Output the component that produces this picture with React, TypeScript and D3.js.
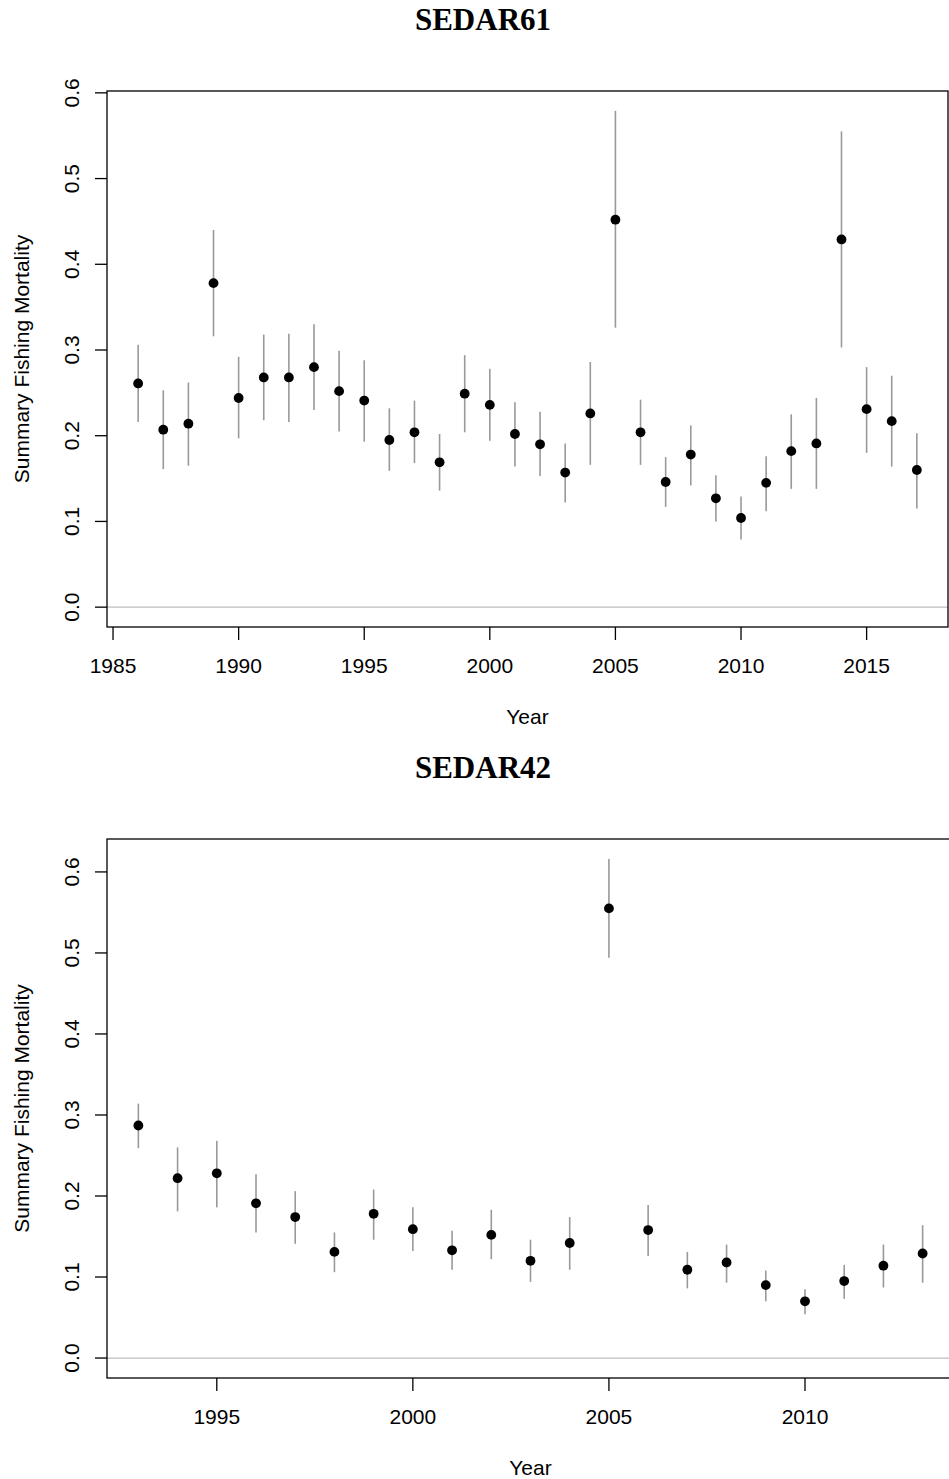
import React from "react";
import * as d3 from "d3";

// SEDAR61 estimates (year, point, lower, upper)
const years61 = [1986, 1987, 1988, 1989, 1990, 1991, 1992, 1993, 1994, 1995, 1996, 1997, 1998, 1999, 2000, 2001, 2002, 2003, 2004, 2005, 2006, 2007, 2008, 2009, 2010, 2011, 2012, 2013, 2014, 2015, 2016, 2017];
const f61 = [0.261, 0.207, 0.214, 0.378, 0.244, 0.268, 0.268, 0.280, 0.252, 0.241, 0.195, 0.204, 0.169, 0.249, 0.236, 0.202, 0.190, 0.157, 0.226, 0.452, 0.204, 0.146, 0.178, 0.127, 0.104, 0.145, 0.182, 0.191, 0.429, 0.231, 0.217, 0.160];
const lo61 = [0.216, 0.161, 0.165, 0.316, 0.197, 0.218, 0.216, 0.230, 0.205, 0.193, 0.159, 0.168, 0.136, 0.204, 0.194, 0.164, 0.153, 0.122, 0.166, 0.326, 0.166, 0.117, 0.142, 0.100, 0.079, 0.112, 0.138, 0.138, 0.303, 0.180, 0.164, 0.115];
const hi61 = [0.306, 0.253, 0.262, 0.440, 0.292, 0.318, 0.319, 0.330, 0.299, 0.288, 0.232, 0.241, 0.202, 0.294, 0.278, 0.239, 0.228, 0.191, 0.286, 0.579, 0.242, 0.175, 0.212, 0.154, 0.129, 0.176, 0.225, 0.244, 0.555, 0.280, 0.270, 0.203];

// SEDAR42 estimates
const years42 = [1993, 1994, 1995, 1996, 1997, 1998, 1999, 2000, 2001, 2002, 2003, 2004, 2005, 2006, 2007, 2008, 2009, 2010, 2011, 2012, 2013];
const f42 = [0.287, 0.222, 0.228, 0.191, 0.174, 0.131, 0.178, 0.159, 0.133, 0.152, 0.120, 0.142, 0.555, 0.158, 0.109, 0.118, 0.090, 0.070, 0.095, 0.114, 0.129];
const lo42 = [0.259, 0.181, 0.186, 0.155, 0.141, 0.106, 0.146, 0.132, 0.109, 0.122, 0.094, 0.109, 0.494, 0.126, 0.086, 0.093, 0.070, 0.054, 0.073, 0.087, 0.093];
const hi42 = [0.314, 0.260, 0.268, 0.227, 0.206, 0.155, 0.208, 0.186, 0.157, 0.183, 0.146, 0.174, 0.616, 0.189, 0.131, 0.140, 0.108, 0.085, 0.115, 0.140, 0.164];

const yTicks = [0, 0.1, 0.2, 0.3, 0.4, 0.5, 0.6];
const xTicks61 = [1985, 1990, 1995, 2000, 2005, 2010, 2015];
const xTicks42 = [1995, 2000, 2005, 2010];

const sans = "'Liberation Sans', Arial, sans-serif";
const serif = "'Liberation Serif', 'Times New Roman', serif";

// R-style 4% padded range
const pad = (lo: number, hi: number): [number, number] => {
  const e = (hi - lo) * 0.04;
  return [lo - e, hi + e];
};

interface PanelProps {
  title: string;
  years: number[];
  est: number[];
  lo: number[];
  hi: number[];
  xTicks: number[];
  top: number;
  bottom: number;
  left: number;
  right: number;
}

const Panel: React.FC<PanelProps> = ({ title, years, est, lo, hi, xTicks, top, bottom, left, right }) => {
  const x = d3
    .scaleLinear()
    .domain(pad(d3.min(years)!, d3.max(years)!))
    .range([left, right]);
  const y = d3
    .scaleLinear()
    .domain(pad(Math.min(0, d3.min(lo)!), d3.max(hi)!))
    .range([bottom, top]);

  const midX = (left + right) / 2;
  const midY = (top + bottom) / 2;

  return (
    <g>
      {/* title */}
      <text x={483} y={top - 61} textAnchor="middle" fontFamily={serif} fontWeight="bold" fontSize={31}>
        {title}
      </text>

      {/* zero reference line */}
      <line x1={left} x2={right} y1={y(0)} y2={y(0)} stroke="#bebebe" strokeWidth={1.2} />

      {/* error bars */}
      {years.map((yr, i) => (
        <line key={"e" + yr} x1={x(yr)} x2={x(yr)} y1={y(lo[i])} y2={y(hi[i])} stroke="#999" strokeWidth={1.6} />
      ))}

      {/* points */}
      {years.map((yr, i) => (
        <circle key={"p" + yr} cx={x(yr)} cy={y(est[i])} r={4.9} fill="#000" />
      ))}

      {/* box */}
      <rect x={left} y={top} width={right - left} height={bottom - top} fill="none" stroke="#000" strokeWidth={1.3} />

      {/* y axis */}
      {yTicks.map((t) => (
        <g key={"y" + t}>
          <line x1={left - 12} x2={left} y1={y(t)} y2={y(t)} stroke="#000" strokeWidth={1.3} />
          <text
            transform={`translate(79, ${y(t)}) rotate(-90)`}
            textAnchor="middle"
            fontFamily={sans}
            fontSize={21}
          >
            {t.toFixed(1)}
          </text>
        </g>
      ))}

      {/* x axis */}
      {xTicks.map((t) => (
        <g key={"x" + t}>
          <line x1={x(t)} x2={x(t)} y1={bottom} y2={bottom + 13} stroke="#000" strokeWidth={1.3} />
          <text x={x(t)} y={bottom + 46} textAnchor="middle" fontFamily={sans} fontSize={21}>
            {t}
          </text>
        </g>
      ))}

      {/* axis labels */}
      <text x={midX} y={bottom + 97} textAnchor="middle" fontFamily={sans} fontSize={21}>
        Year
      </text>
      <text
        transform={`translate(29, ${midY}) rotate(-90)`}
        textAnchor="middle"
        fontFamily={sans}
        fontSize={21}
      >
        Summary Fishing Mortality
      </text>
    </g>
  );
};

const App: React.FC = () => {
  return (
    <svg
      width={949}
      height={1479}
      style={{ position: "absolute", left: 0, top: 0, background: "#fff" }}
    >
      <rect width={949} height={1479} fill="#fff" />
      <Panel
        title="SEDAR61"
        years={years61}
        est={f61}
        lo={lo61}
        hi={hi61}
        xTicks={xTicks61}
        top={91}
        bottom={627}
        left={107}
        right={948}
      />
      <Panel
        title="SEDAR42"
        years={years42}
        est={f42}
        lo={lo42}
        hi={hi42}
        xTicks={xTicks42}
        top={839}
        bottom={1378}
        left={107}
        right={954}
      />
    </svg>
  );
};

export default App;
